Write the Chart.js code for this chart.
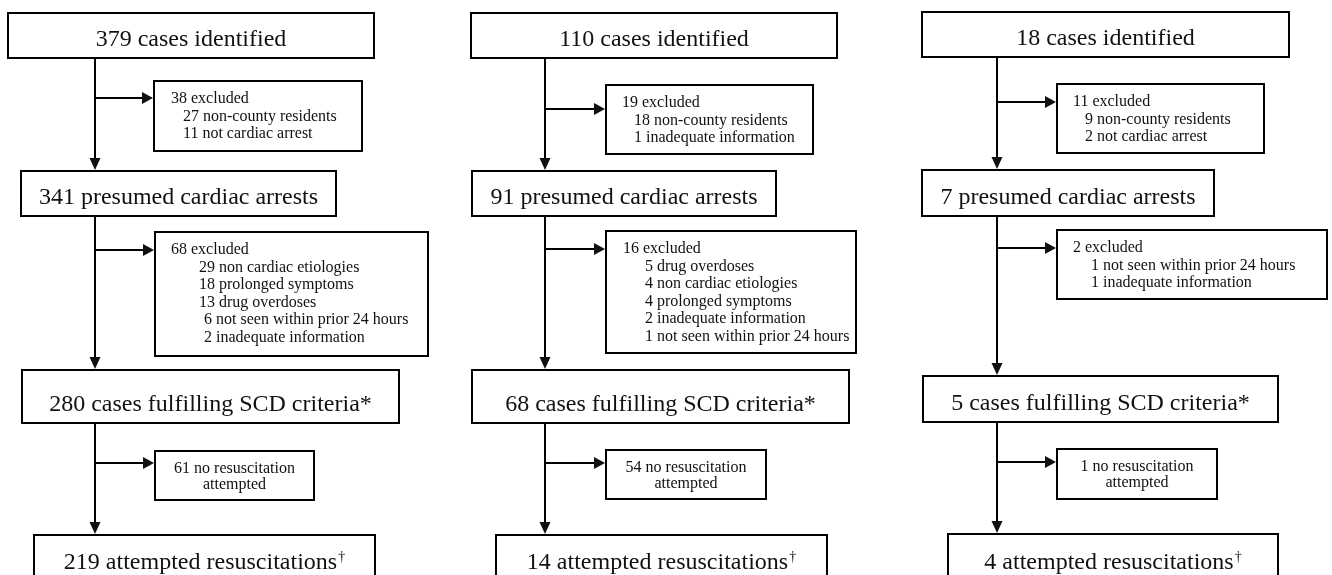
<!DOCTYPE html>
<html lang="en">
<head>
  <meta charset="UTF-8">
  <title>SCD case flow</title>
  <script src="https://cdn.jsdelivr.net/npm/chart.js"></script>
  <style>
    html, body { margin: 0; padding: 0; background: #fff; }
    #wrap { width: 1332px; height: 575px; }
  </style>
</head>
<body>
  <div id="wrap"><canvas id="flow" width="1332" height="575"></canvas></div>

  <script>
    // counts per column
    const identifiedN = [379, 110, 18];
    const presumedN = [341, 91, 7];
    const scdN = [280, 68, 5];
    const attemptedN = [219, 14, 4];
    const noResusN = [61, 54, 1];

    // exclusion lists
    const firstExcluded = [
      ['38 excluded', '27 non-county residents', '11 not cardiac arrest'],
      ['19 excluded', '18 non-county residents', '1 inadequate information'],
      ['11 excluded', '9 non-county residents', '2 not cardiac arrest']
    ];
    const secondExcluded = [
      ['68 excluded', '29 non cardiac etiologies', '18 prolonged symptoms', '13 drug overdoses',
       '6 not seen within prior 24 hours', '2 inadequate information'],
      ['16 excluded', '5 drug overdoses', '4 non cardiac etiologies', '4 prolonged symptoms',
       '2 inadequate information', '1 not seen within prior 24 hours'],
      ['2 excluded', '1 not seen within prior 24 hours', '1 inadequate information']
    ];

    // layout (canvas units), kept apart from the data
    const spineX = [95, 545, 997];
    const mainBoxes = [
      [[8, 13, 374, 58], [21, 171, 336, 216], [22, 370, 399, 423], [34, 535, 375, 581]],
      [[471, 13, 837, 58], [472, 171, 776, 216], [472, 370, 849, 423], [496, 535, 827, 581]],
      [[922, 12, 1289, 57], [922, 170, 1214, 216], [923, 376, 1278, 422], [948, 534, 1278, 581]]
    ];
    const sideBoxes = [
      [[154, 81, 362, 151], [155, 232, 428, 356], [155, 451, 314, 500]],
      [[606, 85, 813, 154], [606, 231, 856, 353], [606, 450, 766, 499]],
      [[1057, 84, 1264, 153], [1057, 230, 1327, 299], [1057, 449, 1217, 499]]
    ];
    const sideArrowY = [[98, 250, 463], [109, 249, 463], [102, 248, 462]];
    const indents = [
      [[17, 29, 29], [16, 44, 44, 44, 49, 49]],
      [[16, 28, 28], [17, 39, 39, 39, 39, 39]],
      [[16, 28, 28], [16, 34, 34]]
    ];

    const SERIF = '"Liberation Serif", "Times New Roman", serif';

    function mainLabels(i) {
      return [
        identifiedN[i] + ' cases identified',
        presumedN[i] + ' presumed cardiac arrests',
        scdN[i] + ' cases fulfilling SCD criteria*',
        attemptedN[i] + ' attempted resuscitations\u2020'
      ];
    }

    const flowPlugin = {
      id: 'flow',
      afterDraw(chart) {
        const ctx = chart.ctx;
        const px = v => chart.scales.x.getPixelForValue(v);
        const py = v => chart.scales.y.getPixelForValue(v);

        ctx.save();
        ctx.strokeStyle = '#000';
        ctx.fillStyle = '#111';
        ctx.lineWidth = 2;

        const rect = r => {
          ctx.strokeRect(px(r[0]), py(r[1]), px(r[2]) - px(r[0]), py(r[3]) - py(r[1]));
        };
        const line = (x0, y0, x1, y1) => {
          ctx.beginPath();
          ctx.moveTo(px(x0), py(y0));
          ctx.lineTo(px(x1), py(y1));
          ctx.stroke();
        };
        const headDown = (x, y) => {
          ctx.beginPath();
          ctx.moveTo(px(x), py(y));
          ctx.lineTo(px(x) - 5.5, py(y) - 12);
          ctx.lineTo(px(x) + 5.5, py(y) - 12);
          ctx.closePath();
          ctx.fill();
        };
        const headRight = (x, y) => {
          ctx.beginPath();
          ctx.moveTo(px(x), py(y));
          ctx.lineTo(px(x) - 11, py(y) - 6);
          ctx.lineTo(px(x) - 11, py(y) + 6);
          ctx.closePath();
          ctx.fill();
        };

        for (let c = 0; c < 3; c++) {
          const boxes = mainBoxes[c];
          const labels = mainLabels(c);
          const sx = spineX[c];

          // main boxes
          boxes.forEach((b, k) => {
            ctx.fillStyle = '#fff';
            ctx.fillRect(px(b[0]), py(b[1]), px(b[2]) - px(b[0]), py(b[3]) - py(b[1]));
            ctx.fillStyle = '#111';
            rect(b);
            let txt = labels[k];
            let sup = '';
            if (txt.endsWith('\u2020')) { sup = '\u2020'; txt = txt.slice(0, -1); }
            ctx.font = '24px ' + SERIF;
            const w = ctx.measureText(txt).width;
            ctx.font = '14px ' + SERIF;
            const sw = sup ? ctx.measureText(sup).width + 1 : 0;
            const cx = (px(b[0]) + px(b[2])) / 2;
            const base = py(b[3]) - 12.5;
            const x0 = cx - (w + sw) / 2;
            ctx.textAlign = 'left';
            ctx.textBaseline = 'alphabetic';
            ctx.font = '24px ' + SERIF;
            ctx.fillText(txt, x0, base);
            if (sup) {
              ctx.font = '14px ' + SERIF;
              ctx.fillText(sup, x0 + w + 1, base - 8);
            }
          });

          // vertical connectors
          for (let k = 0; k < 3; k++) {
            line(sx, boxes[k][3], sx, boxes[k + 1][1] - 10);
            headDown(sx, boxes[k + 1][1] - 1);
          }

          // side branches + exclusion boxes
          sideBoxes[c].forEach((sb, k) => {
            const ay = sideArrowY[c][k];
            line(sx, ay, sb[0] - 9, ay);
            headRight(sb[0] - 1, ay);
            rect(sb);
            ctx.font = '16px ' + SERIF;
            ctx.textBaseline = 'alphabetic';
            if (k < 2) {
              const lines = k === 0 ? firstExcluded[c] : secondExcluded[c];
              const ind = indents[c][k];
              ctx.textAlign = 'left';
              lines.forEach((t, j) => {
                ctx.fillText(t, px(sb[0] + ind[j]), py(sb[1]) + 22 + j * 17.6);
              });
            } else {
              ctx.textAlign = 'center';
              const cx = (px(sb[0]) + px(sb[2])) / 2;
              ctx.fillText(noResusN[c] + ' no resuscitation', cx, py(sb[1]) + 22);
              ctx.fillText('attempted', cx, py(sb[1]) + 38);
            }
          });
        }
        ctx.restore();
      }
    };

    const ctx = document.getElementById('flow').getContext('2d');
    new Chart(ctx, {
      type: 'scatter',
      data: { datasets: [{ data: [], pointRadius: 0 }] },
      options: {
        responsive: false,
        animation: false,
        devicePixelRatio: 1,
        events: [],
        layout: { padding: 0 },
        plugins: { legend: { display: false }, tooltip: { enabled: false } },
        scales: {
          x: { type: 'linear', min: 0, max: 1332, display: false },
          y: { type: 'linear', min: 0, max: 575, reverse: true, display: false }
        }
      },
      plugins: [flowPlugin]
    });
  </script>
</body>
</html>
